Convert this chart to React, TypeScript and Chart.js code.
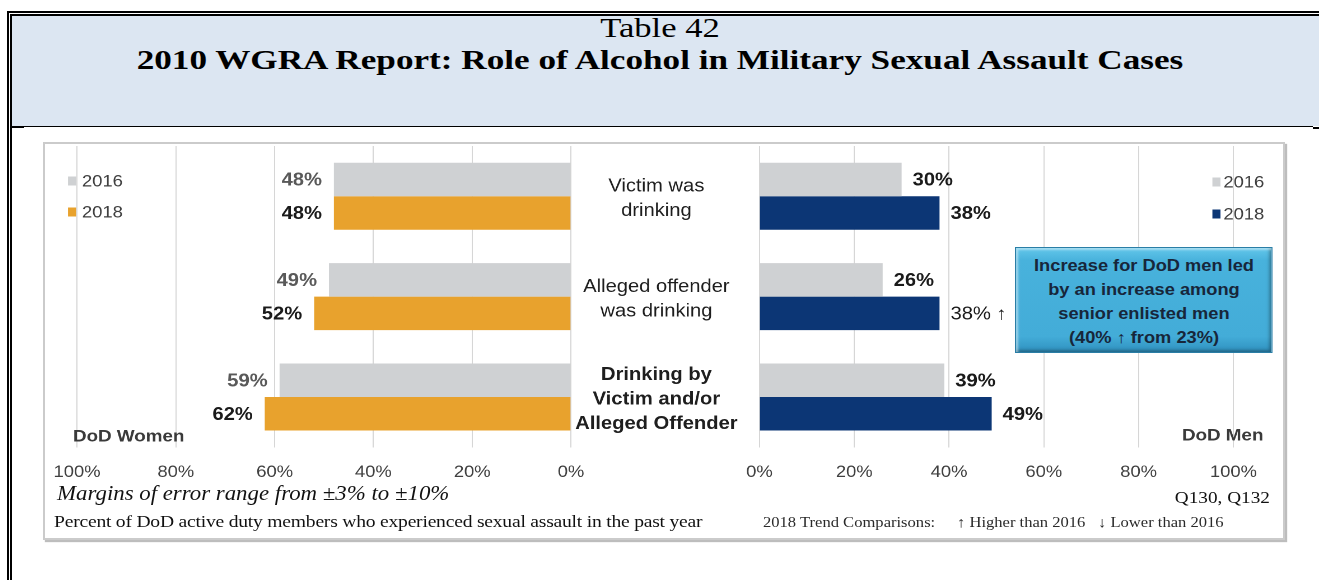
import React, { useEffect, useRef } from 'react';
import { Chart, registerables } from 'chart.js';

Chart.register(...registerables);

// ---------------- data ----------------
const categories: string[][] = [
  ['Victim was', 'drinking'],
  ['Alleged offender', 'was drinking'],
  ['Drinking by', 'Victim and/or', 'Alleged Offender'],
];
const years = ['2016', '2018'];
const women2016 = [48, 49, 59];
const women2018 = [48, 52, 62];
const men2016 = [30, 26, 39];
const men2018 = [38, 38, 49];
const women2018Trend = ['', '', ''];
const men2018Trend = ['', '↑', ''];
const noTrend = ['', '', ''];
const axisTickValues = [0, 20, 40, 60, 80, 100];

// ---------------- layout ----------------
const SC = 1.12; // horizontal stretch of the embedded picture
const HS = 1.256; // horizontal stretch of the header text
const FX = 45;
const FY = 144;
const u = (x: number) => (x - FX) / SC;
const CH = 396;
const CW = 1240 / SC;
const SANS = '"Liberation Sans", Arial, sans-serif';
const SERIF = '"Liberation Serif", "Times New Roman", serif';

const GRAY = '#cfd1d3';
const ORANGE = '#e8a22d';
const NAVY = '#0c3675';

const LW = 493; // left canvas width
const RL = u(571); // right canvas left
const RW = 638; // right canvas width
const PB = 42.66; // bottom layout padding

function xScale(reverse: boolean) {
  return {
    type: 'linear',
    min: 0,
    max: 100,
    reverse,
    afterBuildTicks: (s: any) => {
      s.ticks = axisTickValues.map((v) => ({ value: v }));
    },
    ticks: {
      callback: (v: any) => v + '%',
      color: '#404040',
      font: { family: SANS, size: 16.4 },
      padding: 15.2,
      maxRotation: 0,
      autoSkip: false,
    },
    grid: { color: '#d6d6d6', lineWidth: 1, drawTicks: false },
    border: { display: false },
  };
}

type OverlayCfg = {
  side: 'left' | 'right';
  gap: number;
  valueColors: string[];
  trends: string[][];
  legendBoxX: number;
  legendTextX: number;
  legendRowsY: number[];
  panelTitle: string;
  panelX: number;
  panelY: number;
  panelAlign: CanvasTextAlign;
};

function overlay(cfg: OverlayCfg) {
  return {
    id: 'overlay',
    afterDatasetsDraw(chart: any) {
      const ctx = chart.ctx;
      ctx.save();
      ctx.textBaseline = 'middle';
      chart.data.datasets.forEach((ds: any, di: number) => {
        const meta = chart.getDatasetMeta(di);
        meta.data.forEach((bar: any, i: number) => {
          const trend = cfg.trends[di][i];
          const text = ds.data[i] + '%' + (trend ? ' ' + trend : '');
          ctx.font = (trend ? 'normal' : 'bold') + ' 18px ' + SANS;
          ctx.fillStyle = cfg.valueColors[di];
          if (cfg.side === 'left') {
            ctx.textAlign = 'right';
            ctx.fillText(text, bar.x - cfg.gap, bar.y + 1);
          } else {
            ctx.textAlign = 'left';
            ctx.fillText(text, bar.x + cfg.gap, bar.y + 1);
          }
        });
        // legend
        const ly = cfg.legendRowsY[di];
        ctx.fillStyle = ds.backgroundColor;
        ctx.fillRect(cfg.legendBoxX, ly - 4.5, 7.2, 9);
        ctx.fillStyle = '#404040';
        ctx.textAlign = 'left';
        ctx.font = 'normal 16.4px ' + SANS;
        ctx.fillText(ds.label, cfg.legendTextX, ly + 1);
      });
      ctx.fillStyle = '#3a3a3a';
      ctx.font = 'bold 16.8px ' + SANS;
      ctx.textAlign = cfg.panelAlign;
      ctx.fillText(cfg.panelTitle, cfg.panelX, cfg.panelY);
      ctx.restore();
    },
  };
}

function leftConfig(): any {
  return {
    type: 'bar',
    data: {
      labels: categories,
      datasets: [
        { label: years[0], data: women2016, backgroundColor: GRAY, categoryPercentage: 0.667, barPercentage: 1 },
        { label: years[1], data: women2018, backgroundColor: ORANGE, categoryPercentage: 0.667, barPercentage: 1 },
      ],
    },
    options: {
      indexAxis: 'y',
      responsive: false,
      animation: false,
      devicePixelRatio: 2,
      layout: { padding: { left: u(77), right: LW - u(571), top: 2, bottom: PB } },
      plugins: { legend: { display: false }, tooltip: { enabled: false } },
      scales: {
        x: xScale(true),
        y: { type: 'category', display: false, grid: { display: false } },
      },
    },
    plugins: [
      overlay({
        side: 'left',
        gap: 10.7,
        valueColors: ['#595959', '#1a1a1a'],
        trends: [noTrend, women2018Trend],
        legendBoxX: u(68),
        legendTextX: u(82),
        legendRowsY: [181 - FY, 212 - FY],
        panelTitle: 'DoD Women',
        panelX: u(73),
        panelY: 437 - FY,
        panelAlign: 'left',
      }),
    ],
  };
}

function rightConfig(): any {
  return {
    type: 'bar',
    data: {
      labels: categories,
      datasets: [
        { label: years[0], data: men2016, backgroundColor: GRAY, categoryPercentage: 0.667, barPercentage: 1 },
        { label: years[1], data: men2018, backgroundColor: NAVY, categoryPercentage: 0.667, barPercentage: 1 },
      ],
    },
    options: {
      indexAxis: 'y',
      responsive: false,
      animation: false,
      devicePixelRatio: 2,
      layout: { padding: { left: 0, right: RW - (u(1233) - RL), top: 2, bottom: PB } },
      plugins: { legend: { display: false }, tooltip: { enabled: false } },
      scales: {
        x: xScale(false),
        y: {
          type: 'category',
          position: 'left',
          grid: { display: false },
          border: { display: false },
          ticks: {
            color: '#1e1e1e',
            crossAlign: 'center',
            padding: 11.5,
            labelOffset: 2.5,
            autoSkip: false,
            font: (c: any) => ({
              family: SANS,
              size: 18,
              lineHeight: 1.36,
              weight: c.index === 2 ? 'bold' : 'normal',
            }),
          },
          afterFit: (s: any) => {
            s.width = u(759) - u(571);
            s.paddingTop = 0;
            s.paddingBottom = 0;
          },
        },
      },
    },
    plugins: [
      overlay({
        side: 'right',
        gap: 9.8,
        valueColors: ['#1a1a1a', '#1a1a1a'],
        trends: [noTrend, men2018Trend],
        legendBoxX: u(1212) - RL,
        legendTextX: u(1223) - RL,
        legendRowsY: [182 - FY, 214 - FY],
        panelTitle: 'DoD Men',
        panelX: u(1263) - RL,
        panelY: 436 - FY,
        panelAlign: 'right',
      }),
    ],
  };
}

function ChartCanvas({ makeConfig, left, width }: { makeConfig: () => any; left: number; width: number }) {
  const ref = useRef<HTMLCanvasElement>(null);
  useEffect(() => {
    const chart = new Chart(ref.current as HTMLCanvasElement, makeConfig());
    return () => chart.destroy();
  }, []);
  return (
    <canvas
      ref={ref}
      width={width}
      height={CH}
      style={{ position: 'absolute', left, top: 0, width, height: CH }}
    />
  );
}

const abs = (s: React.CSSProperties): React.CSSProperties => ({ position: 'absolute', ...s });

export default function App() {
  return (
    <div style={abs({ left: 0, top: 0, width: 1319, height: 580, overflow: 'hidden', background: '#fff' })}>
      {/* outer double border */}
      <div style={abs({ left: 7, top: 11, width: 2, height: 569, background: '#000' })} />
      <div style={abs({ left: 10, top: 14, width: 2, height: 566, background: '#000' })} />
      <div style={abs({ left: 7, top: 11, width: 1312, height: 2, background: '#000' })} />
      <div style={abs({ left: 10, top: 14, width: 1309, height: 2, background: '#000' })} />
      {/* header */}
      <div style={abs({ left: 12, top: 16, width: 1307, height: 110, background: '#dce6f2' })} />
      <div style={abs({ left: 12, top: 126, width: 1301, height: 1, background: '#000' })} />
      <div style={abs({ left: 12, top: 126, width: 12, height: 2, background: '#000' })} />
      <div style={abs({ left: 1313, top: 127, width: 6, height: 2, background: '#000' })} />
      <div
        style={abs({
          left: 160,
          top: 12,
          width: 1000,
          textAlign: 'center',
          fontFamily: SERIF,
          fontSize: 27,
          lineHeight: '32px',
          color: '#000',
          transform: `scaleX(${HS * 1.02})`,
          transformOrigin: '50% 0',
          whiteSpace: 'nowrap',
        })}
      >
        Table 42
      </div>
      <div
        style={abs({
          left: 160,
          top: 43.5,
          width: 1000,
          textAlign: 'center',
          fontFamily: SERIF,
          fontSize: 28,
          fontWeight: 'bold',
          lineHeight: '32px',
          color: '#000',
          transform: `scaleX(${HS})`,
          transformOrigin: '50% 0',
          whiteSpace: 'nowrap',
        })}
      >
        2010 WGRA Report: Role of Alcohol in Military Sexual Assault Cases
      </div>

      {/* picture frame */}
      <div
        style={abs({
          left: 43,
          top: 142,
          width: 1242,
          height: 398,
          boxSizing: 'border-box',
          border: '2px solid #cbcbcb',
          boxShadow: '2px 2px 1px #bdbdbd',
          background: '#fff',
        })}
      />

      {/* stretched picture content */}
      <div
        style={abs({
          left: FX,
          top: FY,
          width: CW,
          height: CH,
          transform: `scaleX(${SC})`,
          transformOrigin: '0 0',
        })}
      >
        <ChartCanvas makeConfig={leftConfig} left={0} width={LW} />
        <ChartCanvas makeConfig={rightConfig} left={RL} width={RW} />

        <div
          style={abs({
            left: u(1015),
            top: 247 - FY,
            width: 258 / SC,
            height: 106,
            boxSizing: 'border-box',
            background: 'linear-gradient(#62c6ea 0%, #48b2dc 12%, #43acd8 85%, #2f91bf 100%)',
            border: '1px solid #2a7ea6',
            boxShadow: 'inset 2px 2px 2px rgba(255,255,255,0.45), inset -2px -2px 3px rgba(0,0,0,0.3)',
            textAlign: 'center',
            fontFamily: SANS,
            fontWeight: 'bold',
            fontSize: 16.3,
            lineHeight: '24px',
            color: '#17263a',
            paddingTop: 5,
            whiteSpace: 'nowrap',
          })}
        >
          Increase for DoD men led
          <br />
          by an increase among
          <br />
          senior enlisted men
          <br />
          (40% ↑ from 23%)
        </div>

        <div
          style={abs({
            left: u(57),
            top: 337.6,
            fontFamily: SERIF,
            fontStyle: 'italic',
            fontSize: 20.4,
            lineHeight: '22px',
            color: '#111',
            whiteSpace: 'nowrap',
          })}
        >
          Margins of error range from ±3% to ±10%
        </div>
        <div
          style={abs({
            left: u(54),
            top: 368.4,
            fontFamily: SERIF,
            fontSize: 17.5,
            letterSpacing: -0.2,
            lineHeight: '19px',
            color: '#111',
            whiteSpace: 'nowrap',
          })}
        >
          Percent of DoD active duty members who experienced sexual assault in the past year
        </div>
        <div
          style={abs({
            left: u(1270) - 200,
            width: 200,
            top: 344.4,
            textAlign: 'right',
            fontFamily: SERIF,
            fontSize: 17.2,
            lineHeight: '19px',
            color: '#111',
            whiteSpace: 'nowrap',
          })}
        >
          Q130, Q132
        </div>
        {[
          { x: 763, t: '2018 Trend Comparisons:' },
          { x: 957, t: '↑ Higher than 2016' },
          { x: 1098, t: '↓ Lower than 2016' },
        ].map((s) => (
          <div
            key={s.x}
            style={abs({
              left: u(s.x),
              top: 370.4,
              fontFamily: SERIF,
              fontSize: 14.8,
              lineHeight: '17px',
              color: '#2a2a2a',
              whiteSpace: 'nowrap',
            })}
          >
            {s.t}
          </div>
        ))}
      </div>
    </div>
  );
}
